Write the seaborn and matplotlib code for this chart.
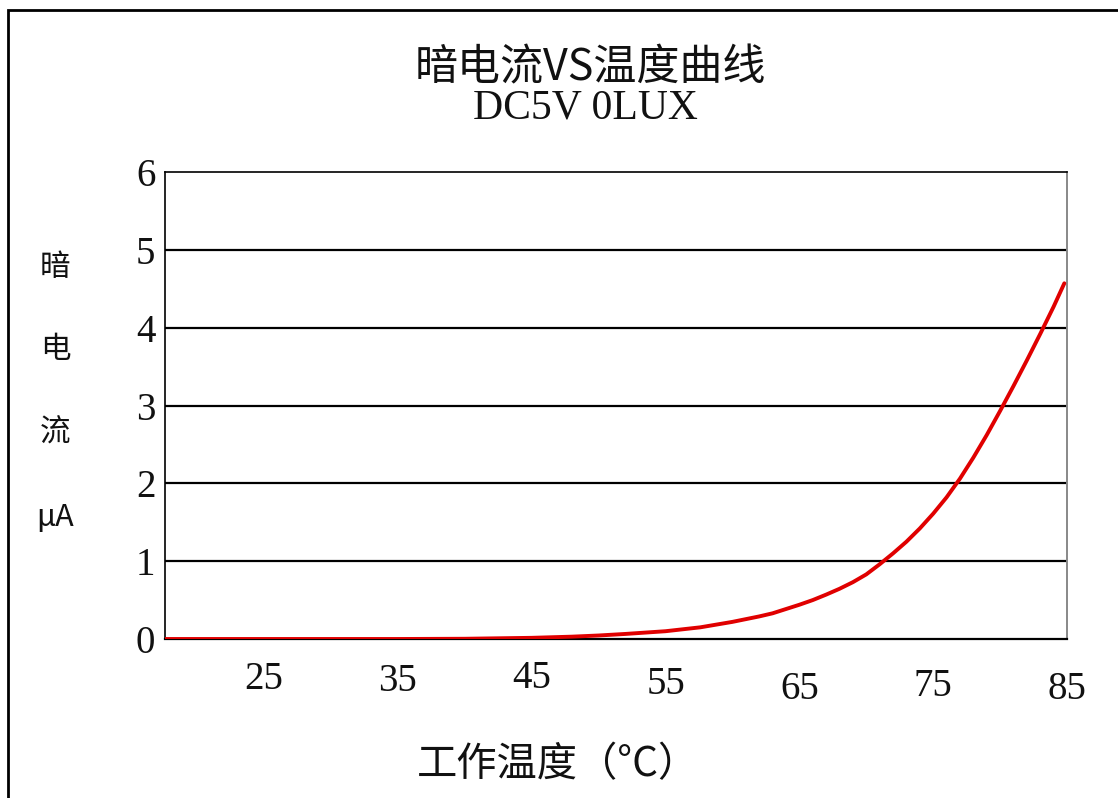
import matplotlib
matplotlib.use("Agg")
import matplotlib.pyplot as plt
import matplotlib.transforms as mtrans
from matplotlib.patches import Rectangle
import seaborn as sns

temps = [17.6, 25, 35, 40, 45, 48, 50, 52, 55, 57.6, 60, 62, 63, 64, 65, 66, 67, 68, 69, 70, 71,
         72, 73, 74, 75, 76, 77, 78, 79, 80, 81, 82, 83, 84, 84.8]
current = [0, 0, 0, 0.003, 0.015, 0.03, 0.045, 0.065, 0.1, 0.15, 0.22, 0.29, 0.33, 0.385, 0.44,
           0.5, 0.57, 0.645, 0.73, 0.83, 0.96, 1.1, 1.25, 1.42, 1.61, 1.82, 2.06, 2.33, 2.62,
           2.93, 3.25, 3.58, 3.92, 4.27, 4.57]
x_ticks = [25, 35, 45, 55, 65, 75, 85]
y_ticks = [0, 1, 2, 3, 4, 5, 6]
title1 = "暗电流VS温度曲线"
title2 = "DC5V 0LUX"
xlabel = "工作温度（°C）"
ylabel_parts = ["暗", "电", "流", "μA"]

sns.set_style("white")
plt.rcParams['font.family'] = ['Noto Sans CJK SC', 'DejaVu Sans']

W, H = 1118, 798
fig = plt.figure(figsize=(W / 100, H / 100), dpi=100)
ax = fig.add_axes([165 / W, 1 - 639 / H, (1067 - 165) / W, (639 - 172) / H])

sns.lineplot(x=temps, y=current, color="#e00000", linewidth=2.8, ax=ax, zorder=5)

ax.set_xlim(17.6, 85)
ax.set_ylim(0, 6)
ax.set_xticks(x_ticks)
ax.set_yticks(y_ticks)
ax.set_xticklabels([str(t) for t in x_ticks], family="Liberation Serif", fontsize=28, color="#111111")
ax.set_yticklabels([str(t) for t in y_ticks], family="Liberation Serif", fontsize=28, color="#111111")
ax.tick_params(axis="x", direction="in", length=9, width=1.3, color="black", pad=18)
ax.tick_params(axis="y", length=0, pad=7)

# slight stagger of x tick labels as in the reference
offs = [3, 1, 4, -2, -7, -4, -7]
for lab, o in zip(ax.get_xticklabels(), offs):
    lab.set_transform(lab.get_transform() + mtrans.ScaledTranslation(0, o / 100, fig.dpi_scale_trans))

for v in y_ticks[1:-1]:
    ax.axhline(v, color="black", linewidth=1.6, zorder=1)

for side in ["left", "bottom", "top"]:
    ax.spines[side].set_color("black")
    ax.spines[side].set_linewidth(1.2)
ax.spines["bottom"].set_linewidth(1.6)
ax.spines["right"].set_color("#888888")
ax.spines["right"].set_linewidth(1.4)
ax.set_xlabel("")
ax.set_ylabel("")

fig.text(590 / W, 1 - 68 / H, title1, ha="center", va="center", fontsize=31, color="#111111")
fig.text(585 / W, 1 - 108 / H, title2, ha="center", va="center", fontsize=30,
         family="Liberation Serif", color="#111111")
fig.text(558 / W, 1 - 765 / H, xlabel, ha="center", va="center", fontsize=29, color="#111111")
for s, yy in zip(ylabel_parts, [268, 350, 433, 518]):
    fig.text(55 / W, 1 - yy / H, s, ha="center", va="center", fontsize=22, color="#111111")

fig.patches.append(Rectangle((8 / W, -0.05), 1.2, 1 - 10 / H + 0.05, transform=fig.transFigure,
                             fill=False, edgecolor="black", linewidth=2))

fig.savefig("out.png", dpi=100)
